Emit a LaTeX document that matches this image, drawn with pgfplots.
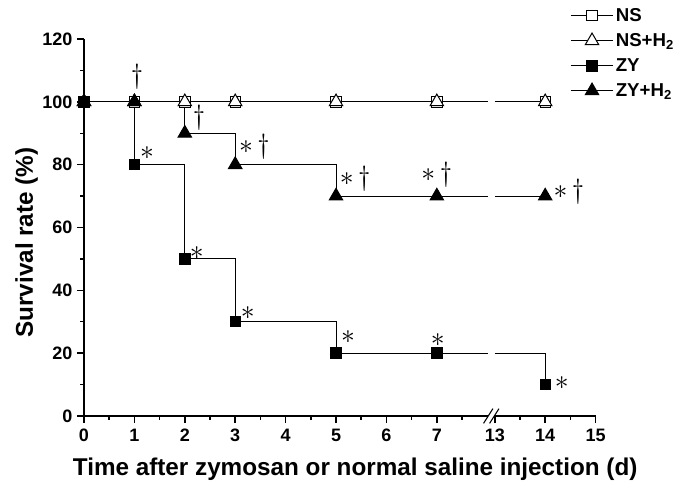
\documentclass[border=0pt]{standalone}
\usepackage{pgfplots}
\pgfplotsset{compat=1.18}
\usepackage{fontspec}
\setmainfont{Liberation Sans}
\begin{document}
\begin{tikzpicture}
\useasboundingbox (0pt,0pt) rectangle (508.5pt,361.5pt);
\begin{axis}[
  at={(63pt,49.5pt)}, anchor=south west,
  scale only axis, width=383.7pt, height=282.75pt,
  xmin=0, xmax=10.15, ymin=0, ymax=120,
  clip=false,
  axis lines=left,
  axis line style={line width=1.1pt,-},
  tick align=outside,
  major tick length=5.25pt, minor tick length=2.8pt,
  tick style={line width=1.1pt,black},
  xtick={0,1,2,3,4,5,6,7,8.15,9.15,10.15},
  xticklabels={0,1,2,3,4,5,6,7,13,14,15},
  minor xtick={0.5,1.5,2.5,3.5,4.5,5.5,6.5,7.5,8.65,9.65},
  ytick={0,20,40,60,80,100,120},
  minor ytick={10,30,50,70,90,110},
  /pgf/number format/assume math mode=true,
  ticklabel style={font=\fontsize{13.5}{15}\selectfont\bfseries},
  xticklabel style={yshift=-1pt},
  xlabel={Time after zymosan or normal saline injection (d)},
  ylabel={Survival rate (\%)},
  label style={font=\fontsize{18.2}{20}\selectfont\bfseries},
  xlabel style={at={(axis description cs:0.53,-0.1565)}, anchor=base},
  ylabel style={at={(axis description cs:-0.0997,0.46)}, anchor=base},
  legend style={at={(axis description cs:0.950,1.088)}, anchor=north west,
    draw=none, fill=none, font=\fontsize{14}{16}\selectfont\bfseries,
    row sep=4.6pt, inner sep=0pt,
    nodes={inner sep=1.5pt}},
  legend cell align=left,
  legend image code/.code={\draw[mark repeat=2,mark phase=2] plot coordinates {(0cm,0cm) (0.56cm,0cm) (1.12cm,0cm)};},
]
% legend entries
\addlegendimage{black, line width=0.75pt, mark=square*, mark size=3.9pt, mark options={fill=white, line width=0.75pt}}
\addlegendentry{NS}
\addlegendimage{black, line width=0.75pt, mark=triangle*, mark size=5.8pt, mark options={fill=white, line width=0.75pt}}
\addlegendentry{NS+H\textsubscript{2}}
\addlegendimage{black, line width=0.75pt, mark=square*, mark size=3.9pt, mark options={fill=black, line width=0.75pt}}
\addlegendentry{ZY}
\addlegendimage{black, line width=0.75pt, mark=triangle*, mark size=5.8pt, mark options={fill=black, line width=0.75pt}}
\addlegendentry{ZY+H\textsubscript{2}}

% step lines (x = 13 drawn at 8.15, 14 at 9.15, 15 at 10.15)
\addplot[forget plot, black, line width=0.75pt, const plot mark left] coordinates {(0,100)(1,100)(2,100)(3,100)(5,100)(7,100)(8.02,100)};
\addplot[forget plot, black, line width=0.75pt, const plot mark left] coordinates {(8.15,100)(9.15,100)};
\addplot[forget plot, black, line width=0.75pt, const plot mark left] coordinates {(0,100)(1,80)(2,50)(3,30)(5,20)(7,20)(8.02,20)};
\addplot[forget plot, black, line width=0.75pt, const plot mark left] coordinates {(8.15,20)(9.15,10)};
\addplot[forget plot, black, line width=0.75pt, const plot mark left] coordinates {(0,100)(1,100)(2,90)(3,80)(5,70)(7,70)(8.02,70)};
\addplot[forget plot, black, line width=0.75pt, const plot mark left] coordinates {(8.15,70)(9.15,70)};

% markers
\addplot[forget plot, only marks, mark=square*, mark size=3.9pt, mark options={draw=black, fill=white, line width=0.75pt}] coordinates {(0,100)(1,100)(2,100)(3,100)(5,100)(7,100)(9.15,100)};
\addplot[forget plot, only marks, mark=triangle*, mark size=5.8pt, mark options={draw=black, fill=white, line width=0.75pt}] coordinates {(0,100)(1,100)(2,100)(3,100)(5,100)(7,100)(9.15,100)};
\addplot[forget plot, only marks, mark=square*, mark size=3.9pt, mark options={draw=black, fill=black, line width=0.75pt}] coordinates {(0,100)(1,80)(2,50)(3,30)(5,20)(7,20)(9.15,10)};
\addplot[forget plot, only marks, mark=triangle*, mark size=5.8pt, mark options={draw=black, fill=black, line width=0.75pt}] coordinates {(0,100)(1,100)(2,90)(3,80)(5,70)(7,70)(9.15,70)};

% significance annotations
\node[font=\fontsize{21}{21}\selectfont] at (axis cs:1.05,108) {$\dag$};
\node[font=\fontsize{21}{21}\selectfont] at (axis cs:2.28,95) {$\dag$};
\node[font=\fontsize{21}{21}\selectfont] at (axis cs:3.38,85.6) {$\ast\,\dag$};
\node[font=\fontsize{21}{21}\selectfont] at (axis cs:5.38,75.5) {$\ast\,\dag$};
\node[font=\fontsize{21}{21}\selectfont] at (axis cs:7.0,76.7) {$\ast\,\dag$};
\node[font=\fontsize{21}{21}\selectfont] at (axis cs:9.62,71.3) {$\ast\,\dag$};
\node[font=\fontsize{21}{21}\selectfont] at (axis cs:1.25,83.7) {$\ast$};
\node[font=\fontsize{21}{21}\selectfont] at (axis cs:2.24,51.9) {$\ast$};
\node[font=\fontsize{21}{21}\selectfont] at (axis cs:3.25,32.8) {$\ast$};
\node[font=\fontsize{21}{21}\selectfont] at (axis cs:5.24,25.1) {$\ast$};
\node[font=\fontsize{21}{21}\selectfont] at (axis cs:7.02,24.2) {$\ast$};
\node[font=\fontsize{21}{21}\selectfont] at (axis cs:9.48,10.5) {$\ast$};

\coordinate (gapL) at (axis cs:8.02,0);
\coordinate (gapR) at (axis cs:8.14,0);
\end{axis}
% axis break
\fill[white] ([yshift=-1.2pt]gapL) rectangle ([yshift=1.2pt]gapR);
\draw[line width=0.8pt] ([xshift=-3.5pt,yshift=-5.5pt]gapL) -- ([xshift=3.5pt,yshift=5.5pt]gapL);
\draw[line width=0.8pt] ([xshift=-3.5pt,yshift=-5.5pt]gapR) -- ([xshift=3.5pt,yshift=5.5pt]gapR);
\end{tikzpicture}
\end{document}
